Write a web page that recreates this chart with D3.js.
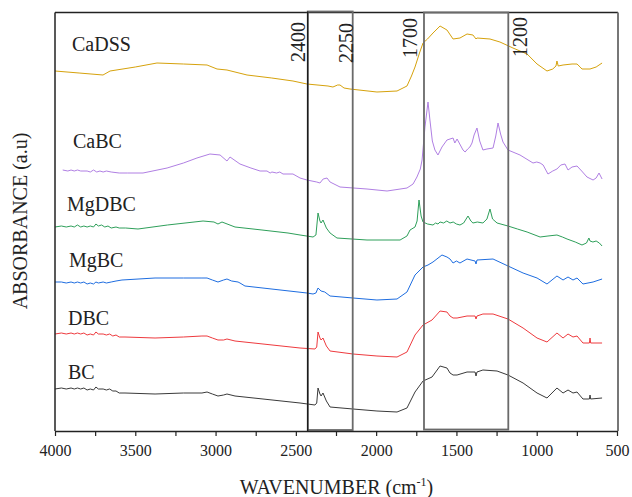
<!DOCTYPE html>
<html>
<head>
<meta charset="utf-8">
<script src="https://cdn.jsdelivr.net/npm/d3@7"></script>
<style>
  body { margin: 0; background: #fff; }
  svg { display: block; }
  text { font-family: "Liberation Serif", "Times New Roman", serif; fill: #222; }
</style>
</head>
<body>
<div id="my_dataviz"></div>
<script>

// FTIR spectra, [wavenumber, absorbance]
var caDSS = [[4000,3.60],[3850,3.58],[3701,3.56],[3657,3.60],[3500,3.64],[3365,3.68],[3200,3.67],[3053,3.66],[2991,3.62],[2929,3.61],[2804,3.56],[2650,3.53],[2518,3.50],[2431,3.47],[2300,3.45],[2269,3.44],[2240,3.46],[2225,3.46],[2200,3.43],[2163,3.42],[1995,3.39],[1870,3.40],[1808,3.45],[1780,3.55],[1758,3.64],[1730,3.78],[1708,3.88],[1680,3.92],[1646,3.98],[1602,4.05],[1559,4.01],[1521,3.92],[1478,3.93],[1434,3.97],[1397,3.96],[1378,3.92],[1372,3.93],[1291,3.92],[1229,3.89],[1148,3.83],[1060,3.77],[998,3.67],[936,3.60],[900,3.62],[880,3.65],[874,3.70],[866,3.65],[836,3.66],[780,3.67],[749,3.67],[730,3.64],[718,3.62],[668,3.62],[630,3.64],[593,3.68]];

var caBC = [[3952,2.61],[3920,2.60],[3900,2.61],[3880,2.60],[3860,2.61],[3840,2.60],[3800,2.60],[3780,2.59],[3760,2.61],[3740,2.59],[3720,2.60],[3700,2.59],[3680,2.60],[3650,2.59],[3600,2.58],[3550,2.58],[3452,2.58],[3302,2.63],[3200,2.68],[3116,2.73],[3035,2.77],[2972,2.76],[2929,2.70],[2910,2.74],[2848,2.67],[2780,2.63],[2723,2.60],[2680,2.60],[2660,2.58],[2649,2.59],[2620,2.58],[2600,2.59],[2580,2.57],[2518,2.57],[2474,2.53],[2431,2.51],[2370,2.49],[2350,2.48],[2330,2.52],[2306,2.53],[2287,2.49],[2225,2.44],[2057,2.42],[1932,2.40],[1808,2.43],[1770,2.47],[1746,2.54],[1725,2.62],[1714,2.71],[1696,3.04],[1677,3.29],[1665,3.11],[1650,2.90],[1634,2.81],[1615,2.76],[1590,2.84],[1559,2.91],[1540,2.92],[1521,2.93],[1510,2.88],[1496,2.92],[1459,2.81],[1446,2.79],[1430,2.82],[1416,2.84],[1403,2.88],[1390,2.96],[1372,3.03],[1355,2.90],[1335,2.81],[1310,2.82],[1272,2.83],[1255,2.95],[1241,3.08],[1225,2.97],[1210,2.89],[1179,2.81],[1104,2.76],[1023,2.68],[1000,2.69],[979,2.68],[960,2.66],[930,2.57],[900,2.60],[874,2.62],[850,2.66],[824,2.67],[805,2.61],[780,2.64],[749,2.65],[720,2.60],[687,2.54],[649,2.51],[630,2.53],[612,2.58],[593,2.52]];

var mgDBC = [[4000,2.04],[3960,2.05],[3930,2.04],[3900,2.05],[3880,2.04],[3860,2.06],[3840,2.04],[3820,2.05],[3800,2.04],[3780,2.05],[3760,2.04],[3745,2.07],[3730,2.05],[3710,2.06],[3690,2.04],[3670,2.05],[3650,2.03],[3620,2.04],[3600,2.03],[3560,2.03],[3483,2.02],[3300,2.06],[3078,2.10],[3010,2.09],[2985,2.07],[2960,2.09],[2879,2.04],[2711,2.01],[2549,1.98],[2474,1.96],[2393,1.94],[2375,1.96],[2362,2.18],[2350,2.10],[2343,2.08],[2331,2.11],[2310,2.03],[2287,1.98],[2244,1.93],[2057,1.91],[1851,1.91],[1808,1.95],[1789,2.01],[1758,2.04],[1745,2.10],[1733,2.31],[1720,2.15],[1708,2.09],[1680,2.07],[1646,2.06],[1630,2.08],[1615,2.07],[1602,2.09],[1580,2.08],[1560,2.10],[1540,2.08],[1520,2.09],[1500,2.07],[1478,2.06],[1455,2.08],[1428,2.15],[1410,2.10],[1397,2.08],[1370,2.09],[1335,2.08],[1310,2.12],[1291,2.22],[1275,2.12],[1247,2.08],[1179,2.05],[1120,2.02],[1060,1.99],[979,1.94],[930,1.95],[874,1.96],[840,1.94],[811,1.92],[760,1.89],[718,1.86],[690,1.88],[675,1.93],[668,1.90],[650,1.89],[630,1.90],[610,1.88],[593,1.85]];

var mgBC = [[4000,1.49],[3960,1.49],[3930,1.48],[3900,1.49],[3880,1.48],[3860,1.49],[3840,1.48],[3820,1.49],[3800,1.47],[3780,1.48],[3760,1.47],[3745,1.49],[3730,1.48],[3700,1.49],[3680,1.48],[3650,1.49],[3620,1.50],[3583,1.51],[3377,1.53],[3200,1.53],[3085,1.53],[3053,1.53],[3020,1.51],[2985,1.49],[2950,1.51],[2929,1.52],[2900,1.50],[2860,1.49],[2848,1.48],[2817,1.45],[2431,1.38],[2393,1.37],[2375,1.38],[2362,1.43],[2343,1.40],[2320,1.39],[2287,1.35],[2144,1.33],[1995,1.31],[1870,1.32],[1808,1.39],[1758,1.56],[1708,1.64],[1677,1.66],[1646,1.69],[1590,1.76],[1559,1.74],[1540,1.72],[1521,1.68],[1500,1.70],[1478,1.68],[1434,1.72],[1384,1.70],[1378,1.67],[1372,1.71],[1272,1.72],[1179,1.65],[1085,1.58],[998,1.53],[936,1.47],[874,1.55],[836,1.51],[805,1.54],[774,1.51],[749,1.53],[712,1.47],[649,1.49],[593,1.52]];

var dBC = [[4000,0.97],[3960,0.98],[3930,0.97],[3900,0.98],[3880,0.97],[3860,0.98],[3840,0.97],[3820,0.98],[3800,0.96],[3780,0.97],[3760,0.96],[3745,0.99],[3730,0.97],[3700,0.97],[3680,0.96],[3660,0.97],[3640,0.95],[3620,0.96],[3600,0.94],[3564,0.94],[3377,0.93],[3200,0.94],[3085,0.95],[3053,0.95],[3020,0.93],[2985,0.91],[2950,0.91],[2929,0.92],[2879,0.90],[2474,0.83],[2381,0.82],[2370,0.84],[2362,0.99],[2350,0.93],[2343,0.91],[2331,0.93],[2310,0.85],[2287,0.80],[2144,0.77],[1995,0.75],[1870,0.74],[1808,0.79],[1758,0.96],[1708,1.06],[1652,1.11],[1602,1.20],[1559,1.19],[1540,1.15],[1521,1.13],[1496,1.13],[1434,1.15],[1384,1.15],[1378,1.12],[1372,1.15],[1335,1.17],[1272,1.17],[1179,1.12],[1085,1.03],[998,0.93],[936,0.89],[874,0.98],[836,0.93],[805,0.97],[774,0.94],[749,0.95],[712,0.88],[672,0.88],[668,0.93],[664,0.88],[593,0.88]];

var bC = [[4000,0.42],[3960,0.43],[3930,0.42],[3900,0.43],[3880,0.42],[3860,0.43],[3840,0.42],[3820,0.43],[3800,0.41],[3780,0.42],[3760,0.41],[3745,0.44],[3730,0.42],[3700,0.42],[3680,0.41],[3660,0.42],[3640,0.40],[3620,0.40],[3600,0.38],[3564,0.38],[3377,0.37],[3200,0.38],[3085,0.38],[3053,0.39],[3020,0.37],[2985,0.35],[2950,0.36],[2929,0.37],[2879,0.35],[2474,0.28],[2381,0.26],[2370,0.28],[2362,0.43],[2350,0.37],[2343,0.35],[2331,0.38],[2310,0.30],[2287,0.24],[2144,0.22],[1995,0.20],[1870,0.19],[1808,0.23],[1758,0.39],[1708,0.50],[1652,0.54],[1602,0.65],[1559,0.63],[1540,0.58],[1521,0.56],[1496,0.56],[1434,0.59],[1384,0.59],[1378,0.55],[1372,0.59],[1335,0.61],[1247,0.60],[1179,0.56],[1085,0.48],[998,0.38],[936,0.33],[874,0.43],[836,0.38],[805,0.41],[774,0.38],[749,0.39],[712,0.32],[672,0.32],[668,0.36],[664,0.32],[593,0.33]];

var seriesNames = ["CaDSS", "CaBC", "MgDBC", "MgBC", "DBC", "BC"];
var seriesData = [caDSS, caBC, mgDBC, mgBC, dBC, bC];
var seriesColors = ["#d6a20c", "#b07fe3", "#2e9f5a", "#1e6de0", "#ee3a3e", "#3a3a3a"];

// the two highlighted bands (edges as drawn) and their labels
var bandEdges = [[2426, 2146], [1702, 1177]];
var bandLabels = ["2400", "2250", "1700", "1200"];

var xTicks = d3.range(4000, 499, -250);

var serif = "'Liberation Serif', 'Times New Roman', serif";
var margin = {top: 12.5, right: 14, bottom: 66, left: 55};
var W = 632, H = 497;
var width = W - margin.left - margin.right;
var height = H - margin.top - margin.bottom;

var svg = d3.select("#my_dataviz")
  .append("svg")
  .attr("width", W)
  .attr("height", H);

var g = svg.append("g")
  .attr("transform", "translate(" + margin.left + "," + margin.top + ")");

var x = d3.scaleLinear().domain([4000, 500]).range([0, width - 1]);
var y = d3.scaleLinear().domain([0, 4.185]).range([height, 0]);

// spectra
var line = d3.line()
  .x(function(d) { return x(d[0]); })
  .y(function(d) { return y(d[1]); });

g.selectAll(".spec")
  .data(seriesData)
  .enter().append("path")
  .attr("class", "spec")
  .attr("fill", "none")
  .attr("stroke", function(d, i) { return seriesColors[i]; })
  .attr("stroke-width", 1)
  .attr("stroke-linejoin", "round")
  .attr("d", line);

// series labels (left x, baseline y)
var labelPos = [[17, 38.5], [18, 135.5], [12, 198.5], [14, 254.5], [13, 312.5], [13, 366.5]];
g.selectAll(".slab")
  .data(seriesNames)
  .enter().append("text")
  .attr("class", "slab")
  .attr("x", function(d, i) { return labelPos[i][0]; })
  .attr("y", function(d, i) { return labelPos[i][1]; })
  .style("font-family", serif)
  .style("font-size", "20px")
  .text(function(d) { return d; });

// frame
g.append("line").attr("x1", 0).attr("x2", width).attr("y1", 0).attr("y2", 0)
  .attr("stroke", "#222").attr("stroke-width", 1.3);
g.append("line").attr("x1", 0).attr("x2", 0).attr("y1", 0).attr("y2", height)
  .attr("stroke", "#222").attr("stroke-width", 1.5);
g.append("line").attr("x1", width).attr("x2", width).attr("y1", 0).attr("y2", height)
  .attr("stroke", "#777").attr("stroke-width", 2);

// band boxes
g.selectAll(".band")
  .data(bandEdges)
  .enter().append("rect")
  .attr("class", "band")
  .attr("x", function(d) { return x(d[0]); })
  .attr("width", function(d) { return x(d[1]) - x(d[0]); })
  .attr("y", function(d, i) { return i == 0 ? -1 : 0; })
  .attr("height", function(d, i) { return i == 0 ? height : height - 1.5; })
  .attr("fill", "none")
  .attr("stroke", "#6a6a6a")
  .attr("stroke-width", 1.8);
// left edge of the first box is a thin black line
g.append("line")
  .attr("x1", x(bandEdges[0][0])).attr("x2", x(bandEdges[0][0]))
  .attr("y1", -1).attr("y2", height)
  .attr("stroke", "#111").attr("stroke-width", 1.2);

// vertical band labels
var bandLabelX = [x(bandEdges[0][0]) - 2.5, x(bandEdges[0][1]) + 0.5, x(bandEdges[1][0]) - 7, x(bandEdges[1][1]) + 19];
var bandLabelY = [49.5, 50.5, 45.5, 44.5];
g.selectAll(".blab")
  .data(bandLabels)
  .enter().append("text")
  .attr("class", "blab")
  .attr("transform", function(d, i) { return "translate(" + bandLabelX[i] + "," + bandLabelY[i] + ") rotate(-90)"; })
  .style("font-family", serif)
  .style("font-size", "20px")
  .text(function(d) { return d; });

// x axis
var xAxis = d3.axisBottom(x)
  .tickValues(xTicks)
  .tickSize(5)
  .tickPadding(9)
  .tickSizeOuter(0)
  .tickFormat(function(d) { return d % 500 == 0 ? d : ""; });

var ax = g.append("g")
  .attr("transform", "translate(0," + height + ")")
  .call(xAxis);
ax.select(".domain").attr("stroke", "#222").attr("stroke-width", 1.5);
ax.selectAll(".tick line").attr("stroke", "#222").attr("stroke-width", 1.2);
ax.selectAll(".tick text")
  .style("font-family", serif)
  .style("font-size", "16px")
  .style("fill", "#222");

// axis titles
var xt = svg.append("text")
  .attr("x", margin.left + width / 2)
  .attr("y", 494)
  .attr("text-anchor", "middle")
  .style("font-family", serif)
  .style("font-size", "20px")
  .text("WAVENUMBER (cm");
xt.append("tspan").style("font-size", "12px").attr("dy", "-8").text("-1");
xt.append("tspan").attr("dy", "8").text(")");

svg.append("text")
  .attr("transform", "translate(27,221) rotate(-90)")
  .attr("text-anchor", "middle")
  .style("font-family", serif)
  .style("font-size", "20px")
  .text("ABSORBANCE (a.u)");

</script>
</body>
</html>
